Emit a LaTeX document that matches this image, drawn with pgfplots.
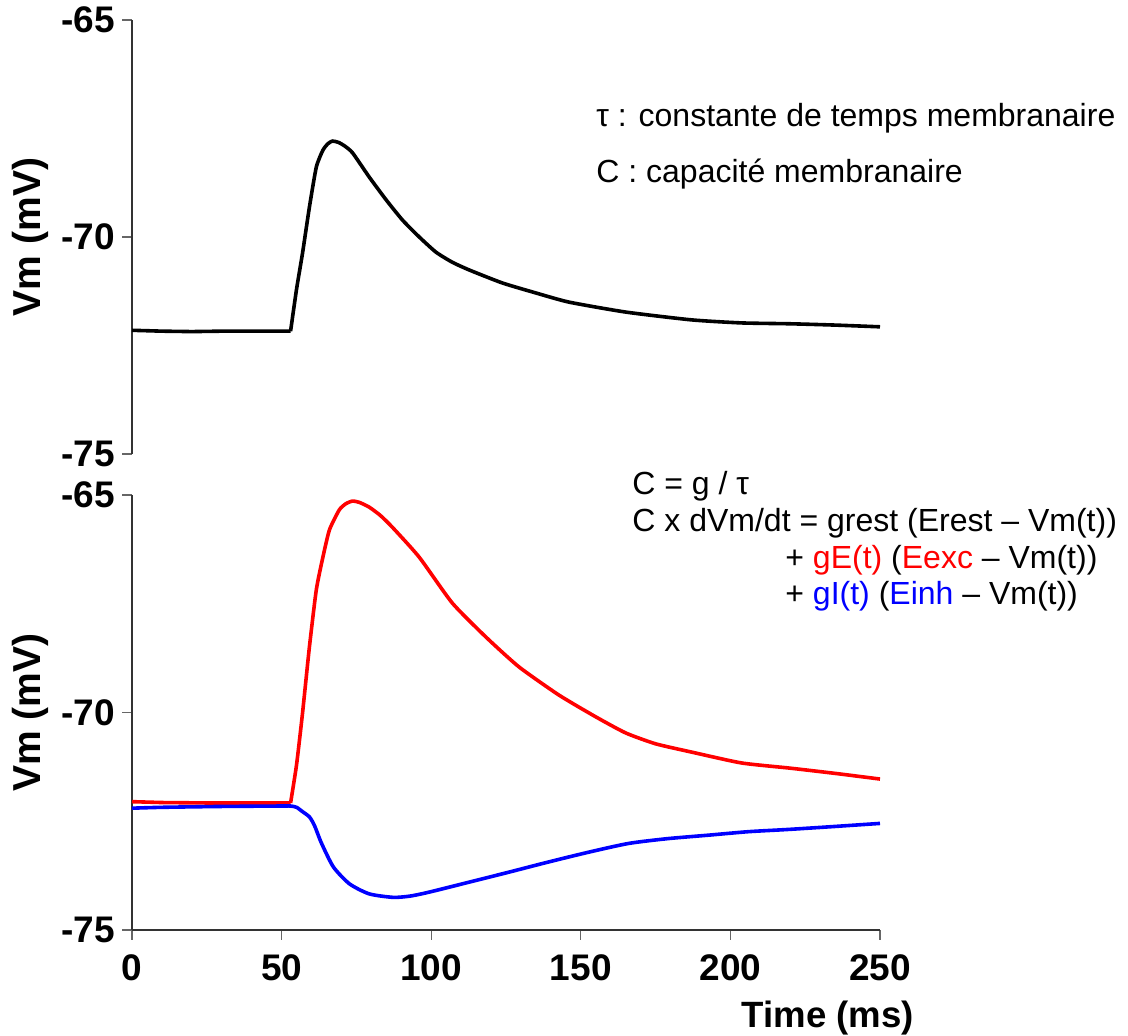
\documentclass[border=0pt]{standalone}
\usepackage{pgfplots}
\pgfplotsset{compat=1.18}
\usepackage{fontspec}
\setmainfont{Liberation Sans}
\definecolor{pred}{RGB}{255,0,0}
\definecolor{pblue}{RGB}{0,0,255}
\begin{document}
\begin{tikzpicture}
\path[use as bounding box] (0,0) rectangle (564pt,518pt);
\pgfplotsset{
 common/.style={
  scale only axis, width=374pt,
  xmin=0, xmax=250, ymin=-75, ymax=-65,
  ytick={-75,-70,-65},
  tick align=outside, major tick length=5pt,
  tick style={black!60, line width=0.6pt},
  axis line style={-, black!80, line width=0.6pt},
  /pgf/number format/assume math mode=true,
  ticklabel style={font=\bfseries\fontsize{18.5}{18.5}\selectfont},
  ylabel={Vm (mV)},
  ylabel style={font=\bfseries\fontsize{19.5}{19.5}\selectfont, at={(axis description cs:-0.1364,0.5)}, anchor=center, rotate=0},
  clip=false,
 }
}
\begin{axis}[common, height=217pt, at={(66pt,291pt)}, anchor=south west,
  axis x line=none, axis y line*=left]
\addplot[black, line width=1.8pt, line join=round] coordinates {
(0,-72.15) (10,-72.17) (20,-72.18) (30,-72.17) (40,-72.17) (50,-72.17) (53,-72.17)
};
\addplot[black, line width=1.8pt, smooth, tension=0.35] coordinates {
(53,-72.17)
(55,-71.2) (57,-70.37) (59.3,-69.31) (61.6,-68.39) (63.8,-68.0) (65.5,-67.85) (67,-67.79)
(69,-67.82) (71,-67.9) (73.7,-68.06) (79.3,-68.62) (85,-69.15) (90.4,-69.61) (96,-70.0)
(101.6,-70.35) (107,-70.58) (112.7,-70.76) (123.8,-71.06) (135,-71.29) (146,-71.5)
(165,-71.73) (187,-71.91) (203.7,-71.98) (220,-72.0) (235,-72.03) (250,-72.07)
};
\end{axis}
\begin{axis}[common, height=217.5pt, at={(66pt,53pt)}, anchor=south west,
  axis x line*=bottom, axis y line*=left,
  xtick={0,50,100,150,200,250},
  xticklabel style={yshift=-4pt},
  xlabel={Time (ms)},
  xlabel style={font=\bfseries\fontsize{18.3}{18.3}\selectfont, at={(axis description cs:1.0548,-0.2235)}, anchor=base east}]
\addplot[pred, line width=1.8pt] coordinates {
(0,-72.05) (10,-72.07) (25,-72.08) (40,-72.08) (53,-72.08)
};
\addplot[pred, line width=1.8pt, smooth, tension=0.35] coordinates {
(53,-72.08) (55,-71.2) (57,-70.01)
(59.3,-68.49) (61.6,-67.18) (63.8,-66.43) (66,-65.8) (69.3,-65.34) (71.5,-65.2) (73.7,-65.14)
(76,-65.17) (79.3,-65.28) (83,-65.47) (87,-65.74) (96,-66.43) (107,-67.48) (118.2,-68.26)
(129.3,-68.95) (142.7,-69.6) (155,-70.1) (165,-70.47) (175,-70.72) (187,-70.91)
(203.7,-71.16) (220,-71.28) (235,-71.4) (250,-71.53)
};
\addplot[pblue, line width=1.8pt, smooth, tension=0.4] coordinates {
(0,-72.2) (10,-72.18) (30,-72.16) (50,-72.15) (53,-72.15) (55,-72.18) (57,-72.28)
(59.3,-72.4) (61,-72.6) (63.3,-73.0) (67.3,-73.55) (72.7,-73.94) (79.3,-74.17) (87.3,-74.25)
(93,-74.22) (99.3,-74.13) (112.7,-73.9) (126,-73.67) (139,-73.44) (152.7,-73.21) (166,-73.01)
(179,-72.9) (192.7,-72.82) (206,-72.74) (219,-72.69) (232.7,-72.63) (250,-72.55)
};
\end{axis}
\begin{scope}[every node/.style={font=\fontsize{16}{16}\selectfont, inner sep=0pt, anchor=base west}]
\node at (298pt,454.5pt) {τ : constante de temps membranaire};
\node at (298pt,426.5pt) {C : capacité membranaire};
\node at (316pt,270.5pt) {C = g / τ};
\node at (316pt,252pt) {C x dVm/dt = grest (Erest – Vm(t))};
\node at (392.5pt,233.5pt) {+ \textcolor{pred}{gE(t)} (\textcolor{pred}{Eexc} – Vm(t))};
\node at (392.5pt,215.5pt) {+ \textcolor{pblue}{gI(t)} (\textcolor{pblue}{Einh} – Vm(t))};
\end{scope}
\end{tikzpicture}
\end{document}
